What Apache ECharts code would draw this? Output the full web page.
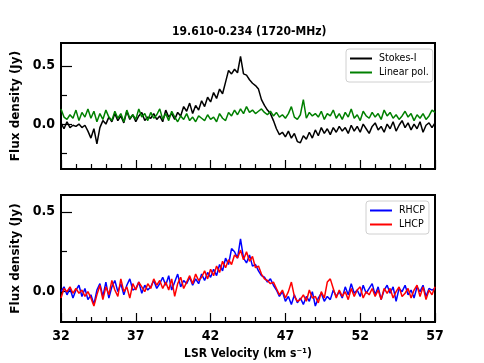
<!DOCTYPE html>
<html>
<head>
<meta charset="utf-8">
<script src="https://cdn.jsdelivr.net/npm/echarts@6/dist/echarts.min.js"></script>
<style>
  html, body { margin: 0; padding: 0; background: #fff; }
  #chart { width: 484px; height: 363px; }
</style>
</head>
<body>
<div id="chart"></div>
<script>
// channel grid (km/s)
const velStart = 32;
const velStep = 0.2;

// top panel
const stokesI = [
  0.01, -0.04, 0.02, -0.03, -0.01,
  -0.02, 0.00, -0.03, -0.01, -0.06,
  -0.12, -0.04, -0.17, -0.03, 0.03,
  0.00, 0.06, 0.02, 0.09, 0.03,
  0.07, 0.01, 0.11, 0.04, 0.08,
  0.02, 0.07, 0.10, 0.03, 0.06,
  0.05, 0.09, 0.04, 0.07, 0.02,
  0.12, 0.06, 0.09, 0.04, 0.10,
  0.07, 0.15, 0.11, 0.18, 0.09,
  0.16, 0.12, 0.20, 0.15, 0.23,
  0.19, 0.27, 0.22, 0.30, 0.26,
  0.36, 0.46, 0.43, 0.47, 0.44,
  0.58, 0.43, 0.42, 0.38, 0.35,
  0.33, 0.30, 0.21, 0.16, 0.12,
  0.09, 0.03, -0.04, -0.09, -0.07,
  -0.11, -0.06, -0.12, -0.08, -0.15,
  -0.16, -0.10, -0.13, -0.07, -0.12,
  -0.05, -0.10, -0.03, -0.08, -0.04,
  -0.09, -0.03, -0.07, -0.02, -0.06,
  -0.03, -0.08, -0.01, -0.06, -0.02,
  -0.07, 0.00, -0.04, -0.08, -0.02,
  0.01, -0.05, -0.02, -0.07, 0.00,
  -0.04, 0.02, -0.06, -0.01, 0.03,
  -0.03, 0.01, -0.05, 0.00, -0.04,
  0.02, -0.07, -0.01, 0.01, -0.03,
  0.01
];
const linearPol = [
  0.13, 0.06, 0.04, 0.08, 0.05,
  0.12, 0.03, 0.10, 0.06, 0.13,
  0.05, 0.11, 0.02, 0.09, 0.04,
  0.12, 0.06, 0.03, 0.11, 0.05,
  0.09, 0.02, 0.12, 0.05, 0.08,
  0.04, 0.13, 0.06, 0.09, 0.03,
  0.10, 0.05, 0.08, 0.13, 0.04,
  0.09, 0.03, 0.11, 0.06, 0.02,
  0.07, 0.04, 0.09, 0.03, 0.06,
  0.02, 0.07, 0.05, 0.03, 0.08,
  0.04, 0.06, 0.02, 0.09, 0.05,
  0.03, 0.10, 0.07, 0.12, 0.08,
  0.13, 0.09, 0.15, 0.10, 0.12,
  0.09, 0.11, 0.13, 0.10, 0.08,
  0.11, 0.07, 0.10, 0.06, 0.08,
  0.05, 0.09, 0.15, 0.06, 0.04,
  0.08, 0.21, 0.05, 0.10, 0.07,
  0.09, 0.06, 0.11, 0.04, 0.09,
  0.07, 0.12, 0.05, 0.09, 0.04,
  0.10, 0.06, 0.13, 0.05, 0.08,
  0.03, 0.11, 0.07, 0.05, 0.10,
  0.06, 0.09, 0.04, 0.12, 0.07,
  0.10, 0.05, 0.08, 0.04, 0.07,
  0.11, 0.06, 0.09, 0.03, 0.08,
  0.05, 0.09, 0.04, 0.07, 0.12,
  0.10
];

// bottom panel
const rhcp = [
  0.00, 0.03, -0.02, 0.02, -0.04,
  0.01, 0.04, -0.03, 0.02, -0.05,
  -0.02, -0.08, 0.01, 0.05, -0.03,
  0.06, -0.04, 0.03, 0.07, 0.00,
  0.05, -0.02, 0.04, 0.08, 0.01,
  0.02, 0.06, -0.01, 0.04, 0.01,
  0.03, 0.07, 0.02, 0.05, 0.09,
  0.04, 0.10, 0.01, 0.06, 0.11,
  0.03, 0.07, 0.05, 0.09, 0.04,
  0.08, 0.05, 0.11, 0.07, 0.12,
  0.09, 0.14, 0.10, 0.17, 0.13,
  0.21, 0.17, 0.27, 0.25, 0.21,
  0.33, 0.21, 0.18, 0.23, 0.16,
  0.17, 0.13, 0.10, 0.09, 0.06,
  0.08, 0.04, 0.01, -0.03, 0.00,
  -0.06, -0.03, -0.08, -0.02, -0.07,
  -0.04, -0.08, -0.03, -0.06, 0.00,
  -0.09, -0.04, -0.01, -0.06, -0.03,
  -0.05, 0.01, -0.03, 0.00, -0.04,
  0.03, -0.02, 0.05, -0.01, 0.01,
  -0.03, 0.04, -0.01, 0.02, 0.05,
  -0.02, 0.03, -0.05, 0.01, 0.04,
  -0.01, 0.03, -0.06, 0.02, 0.00,
  0.04, -0.02, 0.01, -0.04, 0.03,
  0.00, 0.04, -0.03, 0.02, 0.01,
  0.02
];
const lhcp = [
  -0.04, 0.02, 0.00, 0.03, -0.01,
  0.02, -0.01, 0.01, -0.03, 0.00,
  -0.04, -0.09, -0.02, 0.04, -0.05,
  0.03, -0.02, 0.07, 0.01, -0.03,
  0.08, 0.00, 0.03, -0.04, 0.05,
  0.01, 0.06, 0.03, 0.00, 0.05,
  0.02, 0.08, 0.04, 0.07, 0.02,
  0.06, 0.01, 0.08, -0.03, 0.05,
  0.09, 0.02, 0.06, 0.10, 0.05,
  0.11, 0.07, 0.09, 0.13, 0.08,
  0.14, 0.10, 0.16, 0.12, 0.19,
  0.15, 0.20, 0.17, 0.23, 0.21,
  0.26, 0.20, 0.25, 0.19, 0.22,
  0.15, 0.16, 0.11, 0.08, 0.07,
  0.05, 0.06, 0.02, -0.02, 0.01,
  -0.04, 0.00, 0.06, -0.03, -0.06,
  -0.05, -0.02, -0.06, 0.01, -0.04,
  -0.03, -0.07, 0.00, -0.04, 0.06,
  0.08, 0.02, -0.04, 0.01, -0.03,
  0.00, -0.05, 0.02, -0.03, 0.01,
  0.03, -0.04, 0.00, -0.02, 0.02,
  -0.03, 0.01, -0.05, 0.02, -0.01,
  0.02, -0.04, 0.00, 0.03, -0.03,
  -0.01, 0.02, -0.04, 0.01, 0.04,
  -0.03, 0.03, -0.05, 0.01, -0.02,
  0.03
];

const yMajor = [0, 0.5];
const yMinorTop = [-0.25, 0.25];
const yMinorBottom = [0.25];

const FONT_C = "'DejaVu Sans Condensed', 'DejaVu Sans', sans-serif";
const FONT = "'DejaVu Sans', sans-serif";

function pairs(vals) {
  return vals.map((v, i) => [+(velStart + i * velStep).toFixed(2), v]);
}

function xAxis(gridIndex, withLabels) {
  return {
    type: 'value', gridIndex: gridIndex, min: 32, max: 57, interval: 5, position: 'bottom',
    axisLine: { show: false, onZero: false },
    axisTick: { inside: true, length: 9, lineStyle: { color: '#000', width: 1.2 } },
    minorTick: { show: true, splitNumber: 5, length: 5, lineStyle: { color: '#000', width: 1.2 } },
    splitLine: { show: false },
    axisLabel: withLabels ? {
      show: true, margin: 7, color: '#000', fontSize: 14, fontWeight: 'bold', fontFamily: FONT_C
    } : { show: false },
    name: withLabels ? 'LSR Velocity (km s\u207B\u00B9)' : '',
    nameLocation: 'middle', nameGap: 26,
    nameTextStyle: { color: '#000', fontSize: 12, fontWeight: 'bold', fontFamily: FONT_C }
  };
}

function yAxes(gridIndex, min, max, minor) {
  return [{
    type: 'value', gridIndex: gridIndex, min: min, max: max, position: 'left', offset: 0,
    axisLine: { show: false, onZero: false },
    splitLine: { show: false },
    axisTick: { inside: true, length: 11, customValues: yMajor, lineStyle: { color: '#000', width: 1.2 } },
    axisLabel: {
      customValues: yMajor, margin: 6, color: '#000', fontSize: 14, fontWeight: 'bold', fontFamily: FONT_C,
      formatter: v => v.toFixed(1)
    },
    name: 'Flux density (Jy)', nameLocation: 'middle', nameGap: 39,
    nameTextStyle: { color: '#000', fontSize: 12, fontWeight: 'bold', fontFamily: FONT }
  }, {
    type: 'value', gridIndex: gridIndex, min: min, max: max, position: 'left', offset: 0,
    axisLine: { show: false, onZero: false },
    splitLine: { show: false },
    axisTick: { inside: true, length: 6, customValues: minor, lineStyle: { color: '#000', width: 1.2 } },
    axisLabel: { show: false }
  }];
}

function legend(top, left, names) {
  return {
    orient: 'vertical', top: top, left: left, data: names,
    icon: 'rect', itemWidth: 22, itemHeight: 2, itemGap: 3,
    padding: [4, 4, 4, 4],
    backgroundColor: '#fff', borderColor: '#d0d0d0', borderWidth: 1, borderRadius: 3,
    textStyle: { color: '#000', fontSize: 10.5, fontFamily: FONT_C, padding: [0, 0, 0, 2] }
  };
}

function line(name, vals, color, idx) {
  return {
    name: name, type: 'line', data: pairs(vals),
    xAxisIndex: idx, yAxisIndex: idx * 2,
    showSymbol: false, symbol: 'none',
    lineStyle: { color: color, width: 1.5 }, itemStyle: { color: color }
  };
}

const chart = echarts.init(document.getElementById('chart'), null, { renderer: 'canvas' });
chart.setOption({
  animation: false,
  backgroundColor: '#fff',
  title: {
    text: '19.610-0.234 (1720-MHz)', left: 172, top: 26, padding: 0,
    textStyle: { color: '#000', fontSize: 12, fontWeight: 'bold', fontFamily: FONT_C }
  },
  grid: [
    { left: 61, top: 43, width: 374, height: 126, show: true, borderColor: '#000', borderWidth: 2, containLabel: false },
    { left: 61, top: 195, width: 374, height: 127, show: true, borderColor: '#000', borderWidth: 2, containLabel: false }
  ],
  xAxis: [xAxis(0, false), xAxis(1, true)],
  yAxis: yAxes(0, -0.385, 0.695, yMinorTop).concat(yAxes(1, -0.19, 0.605, yMinorBottom)),
  legend: [
    legend(49, 346, ['Stokes-I', 'Linear pol.']),
    legend(201, 366, ['RHCP', 'LHCP'])
  ],
  series: [
    line('Stokes-I', stokesI, '#000000', 0),
    line('Linear pol.', linearPol, '#008000', 0),
    line('RHCP', rhcp, '#0000ff', 1),
    line('LHCP', lhcp, '#ff0000', 1)
  ]
});
</script>
</body>
</html>
